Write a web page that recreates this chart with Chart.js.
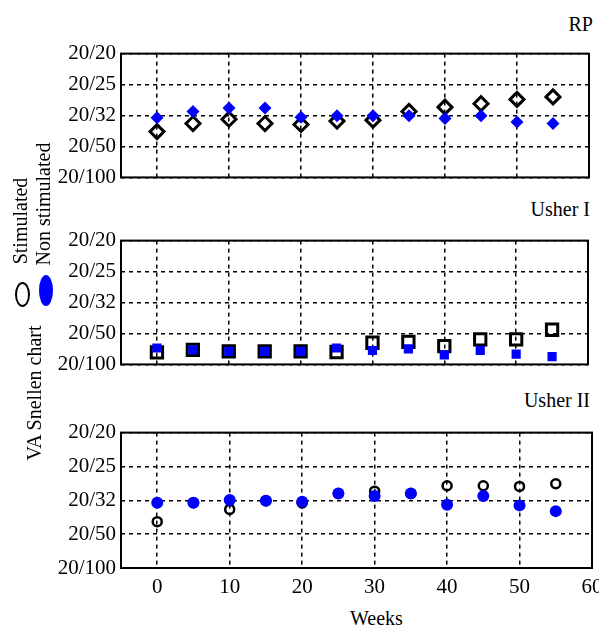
<!DOCTYPE html>
<html>
<head>
<meta charset="utf-8">
<script src="https://cdn.jsdelivr.net/npm/chart.js@4.4.1/dist/chart.umd.min.js"></script>
<style>
  html, body { margin: 0; padding: 0; background: #fff; overflow: hidden; }
  body { width: 599px; height: 626px; position: relative;
         font-family: 'Liberation Serif', 'Times New Roman', serif; color: #000; }
  .painel { position: absolute; left: 0; }
  .txt { position: absolute; font-size: 20px; line-height: 24px; white-space: nowrap; }
  .rot { transform: translate(-50%, -50%) rotate(-90deg); }
  .elipse { position: absolute; border-radius: 50%; box-sizing: border-box; }
</style>
</head>
<body>

<canvas class="painel" id="grafRP" width="599" height="159" style="top:36px"></canvas>
<canvas class="painel" id="grafU1" width="599" height="159" style="top:223px"></canvas>
<canvas class="painel" id="grafU2" width="599" height="189" style="top:415px"></canvas>

<div class="txt" style="right:6px;top:12px">RP</div>
<div class="txt" style="right:9px;top:197px">Usher I</div>
<div class="txt" style="right:9px;top:388px">Usher II</div>
<div class="txt" style="left:350px;top:606px">Weeks</div>

<div class="txt rot" style="left:34px;top:393px">VA Snellen chart</div>
<div class="txt rot" style="left:20px;top:221px">Stimulated</div>
<div class="txt rot" style="left:43px;top:204px">Non stimulated</div>
<div class="elipse" style="left:15px;top:282px;width:15px;height:25px;border:2.5px solid #000"></div>
<div class="elipse" style="left:39px;top:275px;width:14px;height:31px;background:#0000ff"></div>

<script>
// ── Data ───────────────────────────────────────────────
var SEMANAS  = [0, 5, 10, 15, 20, 25, 30, 35, 40, 45, 50, 55];
var X_TICKS  = [0, 10, 20, 30, 40, 50, 60];
var Y_LABELS = ['20/100', '20/50', '20/32', '20/25', '20/20'];

var RP_STIM = [1.48, 1.74, 1.88, 1.74, 1.71, 1.82, 1.85, 2.13, 2.27, 2.38, 2.52, 2.60];
var RP_NON  = [1.93, 2.13, 2.24, 2.24, 1.94, 1.99, 1.99, 1.99, 1.90, 1.99, 1.79, 1.74];

var U1_STIM = [0.39, 0.47, 0.42, 0.42, 0.42, 0.40, 0.70, 0.73, 0.59, 0.81, 0.81, 1.12];
var U1_NON  = [0.53, 0.47, 0.42, 0.42, 0.42, 0.53, 0.45, 0.50, 0.31, 0.45, 0.33, 0.25];

var U2_STIM = [1.37, 1.93, 1.73, 1.99, 1.92, 2.20, 2.27, 2.20, 2.43, 2.43, 2.41, 2.49];
var U2_NON  = [1.93, 1.93, 2.01, 1.99, 1.96, 2.20, 2.13, 2.20, 1.87, 2.13, 1.85, 1.68];

var AZUL  = '#0000ff';
var PRETO = '#000000';

Chart.defaults.font.family = "'Liberation Serif', 'Times New Roman', serif";
Chart.defaults.font.size   = 21;
Chart.defaults.color       = PRETO;

function pontos(valores) {
  return SEMANAS.map(function(s, i) { return { x: s, y: valores[i] }; });
}

// frame round the plot area
var moldura = {
  id: 'moldura',
  beforeDatasetsDraw: function(chart) {
    var a = chart.chartArea, ctx = chart.ctx;
    ctx.save();
    ctx.strokeStyle = PRETO;
    ctx.lineWidth = 2;
    ctx.setLineDash([]);
    ctx.strokeRect(a.left, a.top, a.right - a.left, a.bottom - a.top);
    ctx.restore();
  }
};

function painel(id, stim, non, estilo, comEixoX) {
  var altX = comEixoX ? 36 : 6;
  return new Chart(document.getElementById(id), {
    type: 'scatter',
    data: {
      datasets: [{
        label: 'Non stimulated',
        data: pontos(non),
        pointStyle: estilo.forma,
        pointRadius: estilo.rNon,
        pointHoverRadius: estilo.rNon,
        backgroundColor: AZUL,
        borderColor: AZUL,
        borderWidth: 0
      }, {
        label: 'Stimulated',
        data: pontos(stim),
        pointStyle: estilo.forma,
        pointRadius: estilo.rStim,
        pointHoverRadius: estilo.rStim,
        backgroundColor: 'rgba(0,0,0,0)',
        borderColor: PRETO,
        borderWidth: estilo.linha
      }]
    },
    options: {
      responsive: false,
      animation: false,
      layout: { padding: { top: 10, right: 2, left: 0, bottom: 0 } },
      plugins: { legend: { display: false }, tooltip: { enabled: false } },
      scales: {
        x: {
          type: 'linear', min: -5, max: 60,
          afterBuildTicks: function(axis) {
            axis.ticks = X_TICKS.map(function(v) { return { value: v }; });
          },
          afterFit: function(axis) {
            axis.height = altX;
            axis.paddingLeft = 0;
            axis.paddingRight = 0;
          },
          border: { display: false, dash: [4, 4] },
          grid: { color: PRETO, lineWidth: 1.5, drawTicks: false },
          ticks: { display: comEixoX, padding: 7, color: PRETO,
                   autoSkip: false, maxRotation: 0 }
        },
        y: {
          type: 'linear', min: 0, max: 4,
          afterBuildTicks: function(axis) {
            axis.ticks = Y_LABELS.map(function(l, i) { return { value: i }; });
          },
          afterFit: function(axis) { axis.width = 121; },
          border: { display: false, dash: [4, 4] },
          grid: { color: PRETO, lineWidth: 1.5, drawTicks: false },
          ticks: {
            padding: 5, color: PRETO, autoSkip: false,
            callback: function(v) { return Y_LABELS[v]; }
          }
        }
      }
    },
    plugins: [moldura]
  });
}

// ── 1. RP ─────────────────────────────────────────────
painel('grafRP', RP_STIM, RP_NON, { forma: 'rectRot', rStim: 7, rNon: 6.5, linha: 3 }, false);

// ── 2. Usher I ────────────────────────────────────────
painel('grafU1', U1_STIM, U1_NON, { forma: 'rect', rStim: 8, rNon: 6.5, linha: 3 }, false);

// ── 3. Usher II ───────────────────────────────────────
painel('grafU2', U2_STIM, U2_NON, { forma: 'circle', rStim: 4.5, rNon: 6, linha: 2.5 }, true);
</script>
</body>
</html>
